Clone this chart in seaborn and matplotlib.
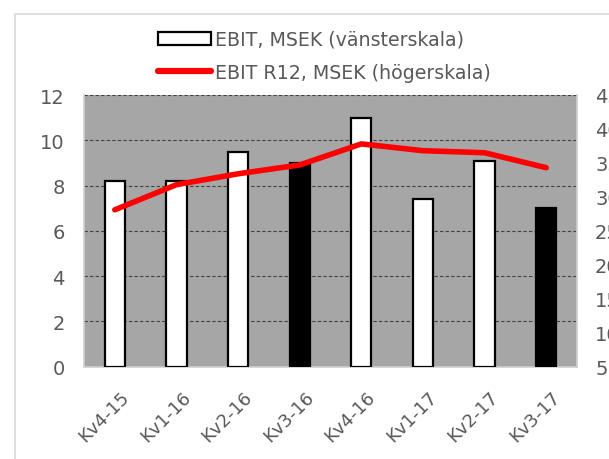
import matplotlib
matplotlib.use("Agg")
import matplotlib.pyplot as plt
import matplotlib.transforms as mtransforms
import seaborn as sns
import pandas as pd
from matplotlib.patches import Patch, Rectangle
from matplotlib.lines import Line2D

categories = ["Kv4-15", "Kv1-16", "Kv2-16", "Kv3-16", "Kv4-16", "Kv1-17", "Kv2-17", "Kv3-17"]
ebit = [8.2, 8.2, 9.5, 9.0, 11.0, 7.4, 9.1, 7.0]
ebit_r12 = [28.1, 31.8, 33.4, 34.7, 37.8, 36.8, 36.5, 34.3]
bar_colors = ["white", "white", "white", "black", "white", "white", "white", "black"]
left_ticks = [0, 2, 4, 6, 8, 10, 12]
right_ticks = [5, 10, 15, 20, 25, 30, 35, 40, 45]
legend_labels = ["EBIT, MSEK (vänsterskala)", "EBIT R12, MSEK (högerskala)"]

df = pd.DataFrame({"kv": categories, "ebit": ebit, "r12": ebit_r12})

sns.set_theme(style="white")
plt.rcParams["font.family"] = ["DejaVu Sans"]
txt = "#595959"

fig = plt.figure(figsize=(6.09, 4.60), dpi=100)
fig.patches.append(Rectangle((15 / 609, -0.1), 1.2, 1.1 - 15 / 460, transform=fig.transFigure,
                             fill=False, edgecolor="#D9D9D9", linewidth=1.2))
ax = fig.add_axes([84 / 609, 1 - 367.7 / 460, (577 - 84) / 609, (367.7 - 96) / 460])
ax.set_facecolor("#A6A6A6")

sns.barplot(data=df, x="kv", y="ebit", hue="kv", palette=bar_colors, legend=False,
            width=0.33, edgecolor="black", linewidth=1.6, ax=ax, zorder=3)
ax.set_ylim(0, 12)
ax.set_yticks(left_ticks)
ax.yaxis.grid(True, linestyle=(0, (3, 2)), color="#404040", linewidth=0.8)
ax.set_axisbelow(True)
ax.set_xlabel("")
ax.set_ylabel("")
ax.tick_params(axis="y", length=0, pad=14, labelsize=14, labelcolor=txt)
ax.tick_params(axis="x", length=0, pad=15, labelsize=13, labelcolor=txt)
offset = mtransforms.ScaledTranslation(5 / 100, 0, fig.dpi_scale_trans)
for lab in ax.get_xticklabels():
    lab.set_rotation(45)
    lab.set_ha("right")
    lab.set_rotation_mode("anchor")
    lab.set_transform(lab.get_transform() + offset)
ax.spines["top"].set_visible(False)
for s in ["left", "right", "bottom"]:
    ax.spines[s].set_color("#D0D0D0")
    ax.spines[s].set_linewidth(1.2)
ax.set_xlim(-0.5, len(categories) - 0.5)

ax2 = ax.twinx()
sns.lineplot(data=df, x="kv", y="r12", color="#FF0000", linewidth=4, sort=False, ax=ax2,
             solid_capstyle="round", zorder=4)
ax2.set_ylim(5, 45)
ax2.set_yticks(right_ticks)
ax2.set_ylabel("")
ax2.tick_params(axis="y", length=0, pad=13, labelsize=14, labelcolor=txt)
for s in ["top", "left", "right", "bottom"]:
    ax2.spines[s].set_visible(False)
ax2.grid(False)

handles = [Patch(facecolor="white", edgecolor="black", linewidth=1.6),
           Line2D([0], [0], color="#FF0000", linewidth=4.5, solid_capstyle="round")]
fig.legend(handles, legend_labels, loc="upper left", bbox_to_anchor=(158 / 609, 1 - 31 / 460),
           frameon=False, fontsize=13.7, labelcolor=txt, handlelength=2.8, handleheight=0.65,
           handletextpad=0.2, labelspacing=0.72, borderpad=0, borderaxespad=0)

fig.savefig("out.png", dpi=100)
